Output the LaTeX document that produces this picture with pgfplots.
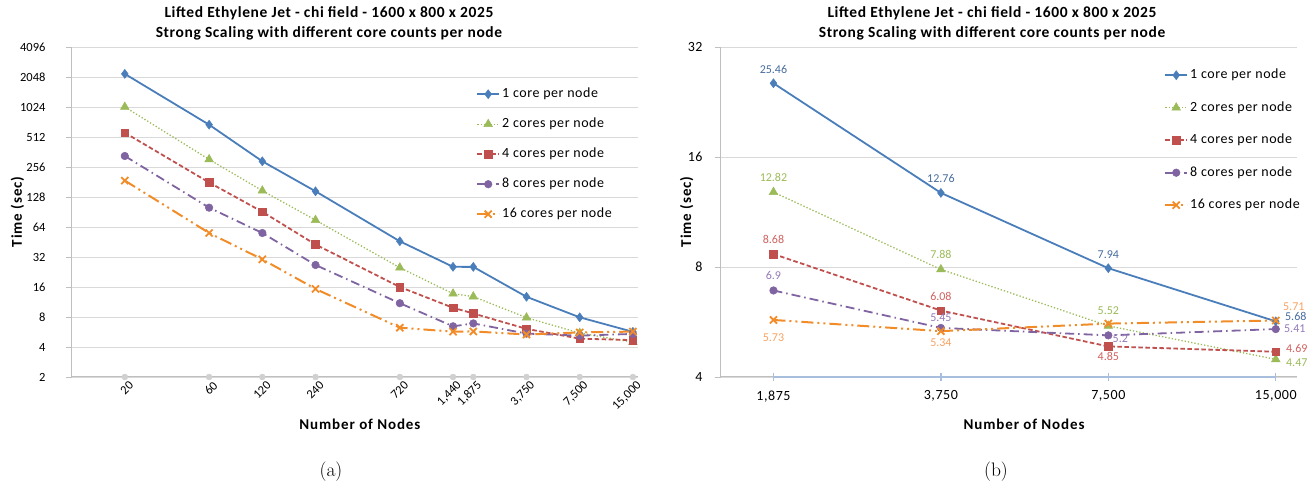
\documentclass[border=0pt]{standalone}
\usepackage{pgfplots}
\pgfplotsset{compat=1.18}
\usepackage{pgfplotstable}
\usepackage{fontspec}
\newfontfamily\calib{Carlito}
\newfontfamily\calibF{Carlito}[LetterSpace=4]
\newfontfamily\calibW{Carlito}[LetterSpace=6]
\newcommand\tickfontA{\calib\fontsize{12.5}{14}\selectfont}
\newcommand\tickfontB{\calibF\fontsize{14}{16}\selectfont}
\newcommand\titlefont{\calibF\bfseries\fontsize{15.5}{20}\selectfont}
\newcommand\axtitlefont{\calibW\bfseries\fontsize{15}{18}\selectfont}
\newcommand\legfont{\calibF\fontsize{14}{17}\selectfont}
\newcommand\lblfont{\calib\fontsize{12}{14}\selectfont}

\definecolor{cBlue}{HTML}{4A7EBB}
\definecolor{cGreen}{HTML}{9BBB59}
\definecolor{cRed}{HTML}{C0504D}
\definecolor{cPurple}{HTML}{8064A2}
\definecolor{cOrange}{HTML}{F28C28}
\definecolor{lBlue}{HTML}{466C9E}
\definecolor{lGreen}{HTML}{9BBB59}
\definecolor{lRed}{HTML}{D0625E}
\definecolor{lPurple}{HTML}{9479B8}
\definecolor{lOrange}{HTML}{F8A262}
\definecolor{cGrid}{HTML}{D9D9D9}
\definecolor{cAxis}{HTML}{BFBFBF}
\definecolor{cDot}{HTML}{D0D0D0}
\definecolor{cXaxis}{HTML}{A7BEDD}

% ---------- data of panel (a) ----------
\pgfplotstableread{
x y
20 2200
60 680
120 292
240 146
720 46
1440 25.5
1875 25.46
3750 12.76
7500 7.94
15000 5.68
}\aOne
\pgfplotstableread{
x y
20 1024
60 305
120 148
240 75
720 25
1440 13.7
1875 12.82
3750 7.88
7500 5.52
15000 4.47
}\aTwo
\pgfplotstableread{
x y
20 565
60 179
120 91
240 42.7
720 16
1440 9.9
1875 8.68
3750 6.08
7500 4.85
15000 4.69
}\aFour
\pgfplotstableread{
x y
20 330
60 100
120 55.7
240 26.6
720 11
1440 6.45
1875 6.9
3750 5.45
7500 5.2
15000 5.41
}\aEight
\pgfplotstableread{
x y
20 187
60 55.7
120 30.3
240 15.3
720 6.25
1440 5.7
1875 5.73
3750 5.34
7500 5.6
15000 5.71
}\aSixteen

% ---------- data of panel (b) ----------
\pgfplotstableread{
x y lab dx dy
1875 25.46 25.46 0 14
3750 12.76 12.76 0 14
7500 7.94 7.94 0 14
15000 5.68 5.68 20 4.5
}\bOne
\pgfplotstableread{
x y lab dx dy
1875 12.82 12.82 0 15
3750 7.88 7.88 0 15
7500 5.52 5.52 0 15
15000 4.47 4.47 21 -3.5
}\bTwo
\pgfplotstableread{
x y lab dx dy
1875 8.68 8.68 0 14.5
3750 6.08 6.08 0 14.5
7500 4.85 4.85 0 -10
15000 4.69 4.69 21 3.5
}\bFour
\pgfplotstableread{
x y lab dx dy
1875 6.9 6.9 0 14.5
3750 5.45 5.45 0 10
7500 5.2 5.2 12 -3
15000 5.41 5.41 19 0.5
}\bEight
\pgfplotstableread{
x y lab dx dy
1875 5.73 5.73 0 -17.5
3750 5.34 5.34 0 -11.5
7500 5.6 {} 0 0
15000 5.71 5.71 18 13.5
}\bSixteen

\pgfplotsset{
  every axis title shift=0pt,
  common/.style={
    scale only axis, anchor=south west, clip=false,
    axis lines*=left,
    axis line style={draw=cAxis, line width=1pt},
    ymajorgrids, major grid style={draw=cGrid, line width=0.8pt},
    y tick style={draw=cAxis, line width=0.8pt},
    ytick align=outside, major tick length=6pt,
    title style={font=\titlefont, align=center, anchor=center},
    xlabel style={font=\axtitlefont, anchor=center},
    ylabel style={font=\axtitlefont, anchor=center},
    legend cell align=left,
    legend style={draw=none, fill=none, font=\legfont, anchor=north west,
      row sep=17pt, column sep=2pt,
      nodes={inner sep=0pt, text height=10pt, text depth=3pt}},
    legend image code/.code={\draw[mark repeat=2,mark phase=2,##1] plot coordinates {(0pt,0pt) (11pt,0pt) (22pt,0pt)};},
  },
  sOne/.style={cBlue, line width=1.8pt, mark=diamond*, mark size=4.5pt, mark options={solid, fill=cBlue, draw=cBlue, line width=0.5pt}},
  sTwo/.style={cGreen, line width=1.3pt, dash pattern=on 1.3pt off 2pt, mark=triangle*, mark size=5pt, mark options={solid, fill=cGreen, draw=cGreen, line width=0.5pt}},
  sFour/.style={cRed, line width=1.8pt, dash pattern=on 4.5pt off 2.5pt, mark=square*, mark size=3.8pt, mark options={solid, fill=cRed, draw=cRed, line width=0.5pt}},
  sEight/.style={cPurple, line width=1.8pt, dash pattern=on 9pt off 4pt on 1.5pt off 4pt, mark=*, mark size=3.8pt, mark options={solid, fill=cPurple, draw=cPurple, line width=0.5pt}},
  sSixteen/.style={cOrange, line width=2pt, dash pattern=on 12pt off 4pt on 2pt off 4pt on 2pt off 4pt, mark=x, mark size=5pt, mark options={solid, draw=cOrange, line width=1.8pt}},
  lab/.style={nodes near coords, point meta=explicit symbolic,
    visualization depends on={\thisrow{dx}\as\dx},
    visualization depends on={\thisrow{dy}\as\dy},
    every node near coord/.append style={anchor=center, inner sep=0pt, font=\lblfont, text=#1, xshift=\dx pt, yshift=\dy pt}},
}

\begin{document}
\begin{tikzpicture}
\path[use as bounding box] (0,0) rectangle (1307pt,484pt);

% ================= panel (a) =================
\begin{axis}[common,
  at={(71.6pt,107pt)}, width=566.4pt, height=330pt,
  xmode=log, log basis x=2, ymode=log, log basis y=2,
  xmin=10, xmax=16030, ymin=2, ymax=4096,
  ticklabel style={font=\tickfontA},
  xtick={20,60,120,240,720,1440,1875,3750,7500,15000},
  xticklabels={20,60,120,240,720,{1,440},{1,875},{3,750},{7,500},{15,000}},
  x tick style={draw=none},
  xticklabel style={anchor=east, inner sep=0pt, xshift=6.5pt, yshift=-6.5pt, rotate=45},
  ytick={2,4,8,16,32,64,128,256,512,1024,2048,4096},
  yticklabels={2,4,8,16,32,64,128,256,512,1024,2048,4096},
  yticklabel style={anchor=east, inner sep=0pt, xshift=-20pt},
  title={Lifted Ethylene Jet - chi field - 1600 x 800 x 2025\\Strong Scaling with different core counts per node},
  title style={at={(0.4544,1.0727)}},
  xlabel={Number of Nodes}, xlabel style={at={(0.509,-0.144)}},
  ylabel={Time (sec)}, ylabel style={at={(-0.0955,0.5)}},
  legend style={at={(0.7087,0.8833)}},
]
\addplot[only marks, mark=*, mark size=3pt, color=cDot, forget plot] coordinates {
(20,2) (60,2) (120,2) (240,2) (720,2) (1440,2) (1875,2) (3750,2) (7500,2) (15000,2)};
\addplot[sOne] table[x=x,y=y] {\aOne};
\addlegendentry{1 core per node}
\addplot[sTwo] table[x=x,y=y] {\aTwo};
\addlegendentry{2 cores per node}
\addplot[sFour] table[x=x,y=y] {\aFour};
\addlegendentry{4 cores per node}
\addplot[sEight] table[x=x,y=y] {\aEight};
\addlegendentry{8 cores per node}
\addplot[sSixteen] table[x=x,y=y] {\aSixteen};
\addlegendentry{16 cores per node}
\end{axis}

% ================= panel (b) =================
\begin{axis}[common,
  at={(720.7pt,107pt)}, width=576.3pt, height=330pt,
  xmode=log, log basis x=2, ymode=log, log basis y=2,
  xmin=1507, xmax=16380, ymin=4, ymax=32,
  ticklabel style={font=\tickfontB},
  xtick={1875,3750,7500,15000},
  xticklabels={{1,875},{3,750},{7,500},{15,000}},
  x tick style={draw=none},
  xticklabel style={anchor=north, inner sep=0pt, yshift=-13.5pt},
  ytick={4,8,16,32}, yticklabels={4,8,16,32},
  yticklabel style={anchor=east, inner sep=0pt, xshift=-12pt},
  title={Lifted Ethylene Jet - chi field - 1600 x 800 x 2025\\Strong Scaling with different core counts per node},
  title style={at={(0.4708,1.0727)}},
  xlabel={Number of Nodes}, xlabel style={at={(0.5263,-0.144)}},
  ylabel={Time (sec)}, ylabel style={at={(-0.059,0.5)}},
  legend style={at={(0.764,0.9409)}, row sep=19.5pt},
]
\addplot[cXaxis, line width=2pt, mark=|, mark size=4pt, mark options={line width=1.2pt}, forget plot] coordinates {
(1875,4) (3750,4) (7500,4) (15000,4)};
\addplot[sOne, lab=lBlue] table[x=x,y=y,meta=lab] {\bOne};
\addlegendentry{1 core per node}
\addplot[sTwo, lab=lGreen] table[x=x,y=y,meta=lab] {\bTwo};
\addlegendentry{2 cores per node}
\addplot[sFour, lab=lRed] table[x=x,y=y,meta=lab] {\bFour};
\addlegendentry{4 cores per node}
\addplot[sEight, lab=lPurple] table[x=x,y=y,meta=lab] {\bEight};
\addlegendentry{8 cores per node}
\addplot[sSixteen, lab=lOrange] table[x=x,y=y,meta=lab] {\bSixteen};
\addlegendentry{16 cores per node}
\end{axis}

\node[font=\fontsize{19.5}{22}\selectfont] at (331pt,12pt) {(a)};
\node[font=\fontsize{19.5}{22}\selectfont] at (996pt,12pt) {(b)};
\end{tikzpicture}
\end{document}
